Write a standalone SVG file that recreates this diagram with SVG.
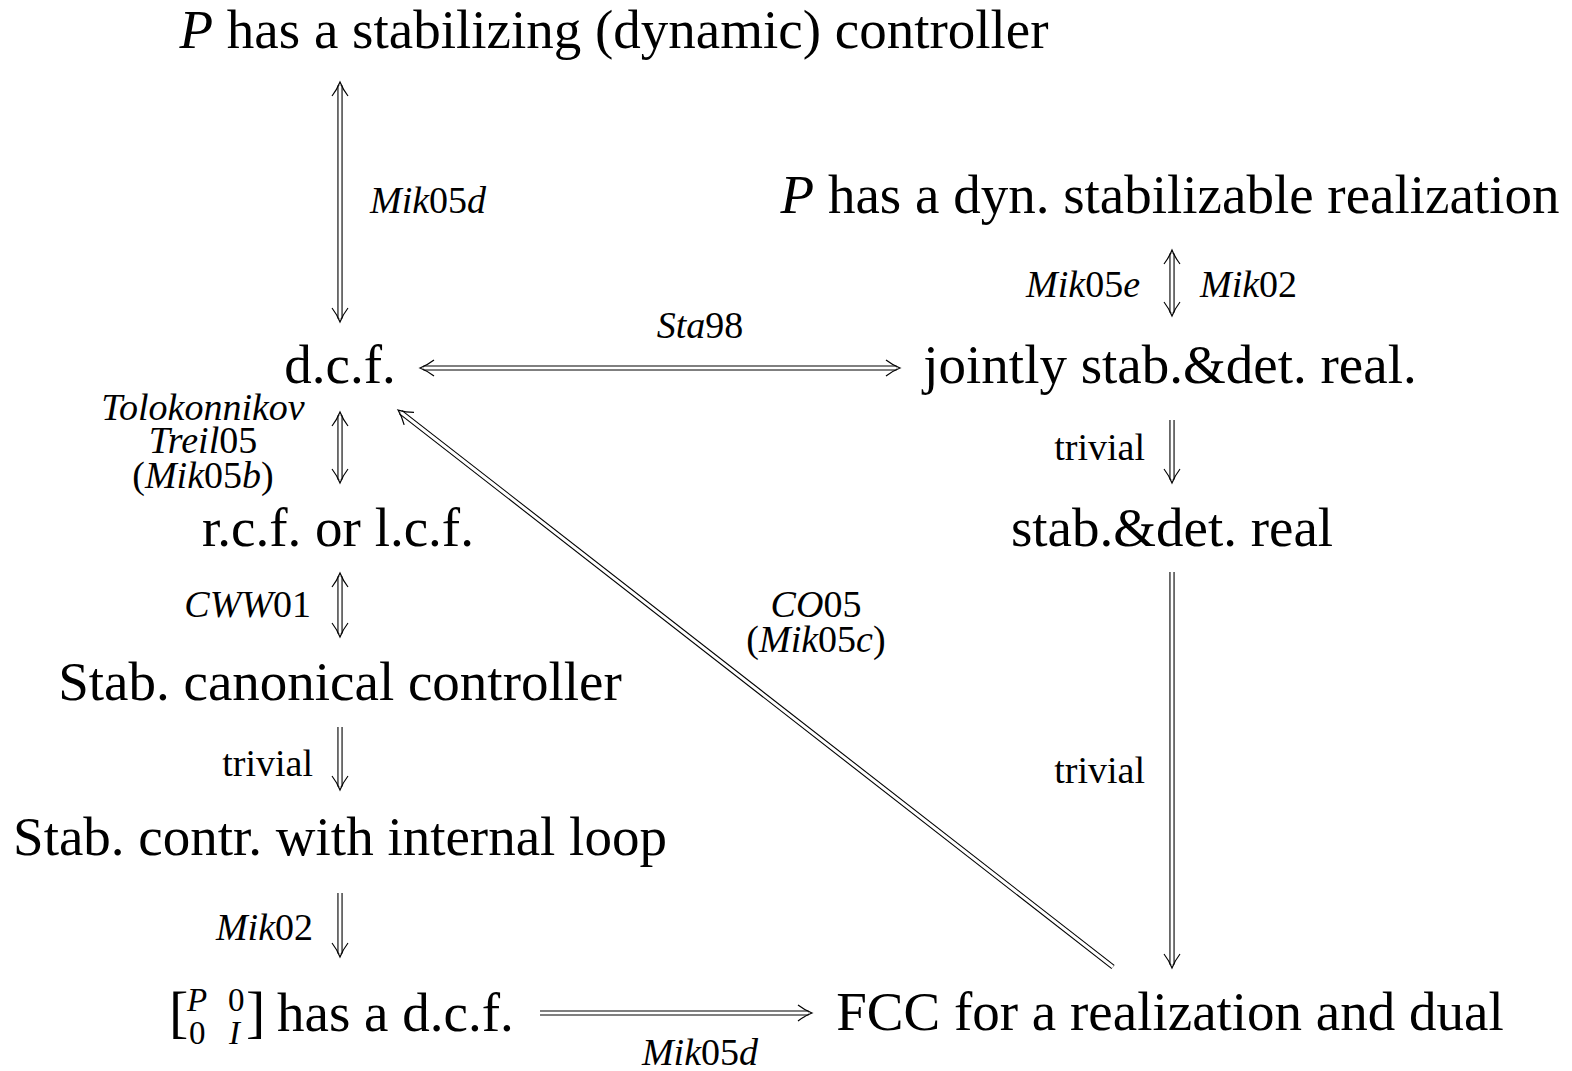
<svg xmlns="http://www.w3.org/2000/svg" width="1572" height="1071" viewBox="0 0 1572 1071">
<style>
.n{font-family:"Liberation Serif","Times New Roman",serif;font-size:55px;fill:#000}
.l{font-family:"Liberation Serif","Times New Roman",serif;font-size:38px;fill:#000}
.m{font-size:33px}
.b{font-size:58px}
.it{font-style:italic}
.o{fill:none;stroke:#000;stroke-width:5.2}
.i{fill:none;stroke:#fff;stroke-width:3}
</style>
<defs>
<marker id="ah" markerUnits="userSpaceOnUse" markerWidth="20" markerHeight="20" viewBox="-12 -10 20 20" refX="0" refY="0" orient="auto-start-reverse" overflow="visible">
<path d="M-10.5,-8 Q-4,-3 3.5,0 Q-4,3 -10.5,8" fill="none" stroke="#000" stroke-width="1.2"/>
</marker>
</defs>
<rect width="1572" height="1071" fill="#fff"/>
<g id="connectors">
<g id="a1"><path class="o" d="M340,85.5V318.5"/><path class="i" d="M340,85.5V318.5" marker-start="url(#ah)" marker-end="url(#ah)"/></g>
<g id="a2"><path class="o" d="M1172,253.5V312.5"/><path class="i" d="M1172,253.5V312.5" marker-start="url(#ah)" marker-end="url(#ah)"/></g>
<g id="a3"><path class="o" d="M423.5,368H896.5"/><path class="i" d="M423.5,368H896.5" marker-start="url(#ah)" marker-end="url(#ah)"/></g>
<g id="a4"><path class="o" d="M340,415.5V479.5"/><path class="i" d="M340,415.5V479.5" marker-start="url(#ah)" marker-end="url(#ah)"/></g>
<g id="a5"><path class="o" d="M1172,420V479.5"/><path class="i" d="M1172,420V479.5" marker-end="url(#ah)"/></g>
<g id="a6"><path class="o" d="M340,576.5V633.5"/><path class="i" d="M340,576.5V633.5" marker-start="url(#ah)" marker-end="url(#ah)"/></g>
<g id="a7"><path class="o" d="M340,727V786.5"/><path class="i" d="M340,727V786.5" marker-end="url(#ah)"/></g>
<g id="a8"><path class="o" d="M340,893V953.5"/><path class="i" d="M340,893V953.5" marker-end="url(#ah)"/></g>
<g id="a9"><path class="o" d="M540,1013H808.5"/><path class="i" d="M540,1013H808.5" marker-end="url(#ah)"/></g>
<g id="a10"><path class="o" d="M1172,572V964.5"/><path class="i" d="M1172,572V964.5" marker-end="url(#ah)"/></g>
<g id="a11"><path class="o" d="M1113,967L400.8,412.2"/><path class="i" d="M1113,967L400.8,412.2" marker-end="url(#ah)"/></g>
</g>
<g id="labels">
<text class="l" x="370" y="213"><tspan class="it">Mik</tspan>05<tspan class="it">d</tspan></text>
<text class="l" x="1140" y="297" text-anchor="end"><tspan class="it">Mik</tspan>05<tspan class="it">e</tspan></text>
<text class="l" x="1200" y="297"><tspan class="it">Mik</tspan>02</text>
<text class="l" x="700" y="338" text-anchor="middle"><tspan class="it">Sta</tspan>98</text>
<text class="l" text-anchor="middle"><tspan class="it" x="203" y="420">Tolokonnikov</tspan><tspan x="203" y="453"><tspan class="it">Treil</tspan>05</tspan><tspan x="203" y="488">(<tspan class="it">Mik</tspan>05<tspan class="it">b</tspan>)</tspan></text>
<text class="l" x="1145" y="460" text-anchor="end">trivial</text>
<text class="l" x="311" y="617" text-anchor="end"><tspan class="it">CWW</tspan>01</text>
<text class="l" x="313" y="776" text-anchor="end">trivial</text>
<text class="l" x="313" y="940" text-anchor="end"><tspan class="it">Mik</tspan>02</text>
<text class="l" x="700" y="1065" text-anchor="middle"><tspan class="it">Mik</tspan>05<tspan class="it">d</tspan></text>
<text class="l" x="1145" y="783" text-anchor="end">trivial</text>
<text class="l" text-anchor="middle"><tspan x="816" y="617"><tspan class="it">CO</tspan>05</tspan><tspan x="816" y="652">(<tspan class="it">Mik</tspan>05<tspan class="it">c</tspan>)</tspan></text>
</g>
<g id="n1"><text class="n" x="614" y="48" text-anchor="middle"><tspan class="it">P</tspan> has a stabilizing (dynamic) controller</text></g>
<g id="n2"><text class="n" x="1170" y="213" text-anchor="middle"><tspan class="it">P</tspan> has a dyn. stabilizable realization</text></g>
<g id="n3"><text class="n" x="340" y="383" text-anchor="middle">d.c.f.</text></g>
<g id="n4"><text class="n" x="1170" y="383" text-anchor="middle">jointly stab.&amp;det. real.</text></g>
<g id="n5"><text class="n" x="338" y="546" text-anchor="middle">r.c.f. or l.c.f.</text></g>
<g id="n6"><text class="n" x="1172" y="546" text-anchor="middle">stab.&amp;det. real</text></g>
<g id="n7"><text class="n" x="340" y="700" text-anchor="middle">Stab. canonical controller</text></g>
<g id="n8"><text class="n" x="340" y="855" text-anchor="middle">Stab. contr. with internal loop</text></g>
<g id="n9">
<text class="n"><tspan class="b" x="169" y="1031">[</tspan><tspan class="m it" x="187" y="1011">P</tspan><tspan class="m" x="228" y="1011">0</tspan><tspan class="m" x="189" y="1044">0</tspan><tspan class="m it" x="229" y="1044">I</tspan><tspan class="b" x="246" y="1031">]</tspan><tspan x="277" y="1031">has a d.c.f.</tspan></text>
</g>
<g id="n10"><text class="n" x="1170" y="1030" text-anchor="middle">FCC for a realization and dual</text></g>
</svg>
